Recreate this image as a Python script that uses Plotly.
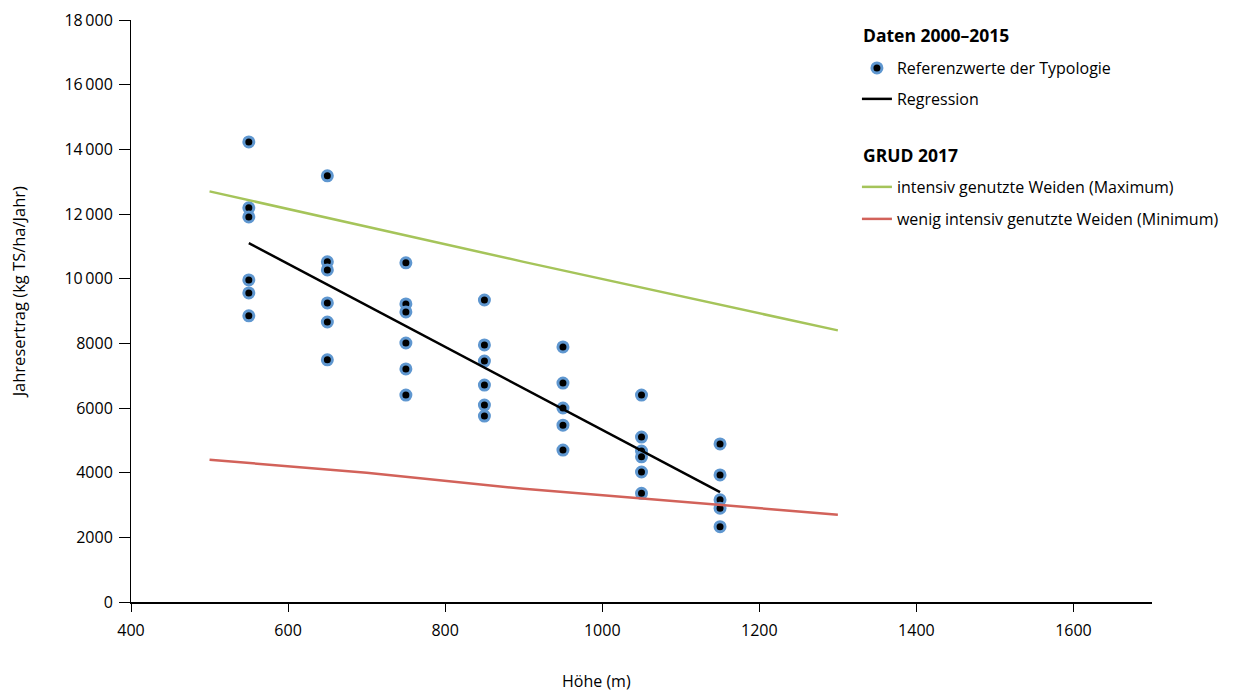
import plotly.graph_objects as go

# Reference points (Höhe m, Jahresertrag kg TS/ha/Jahr)
pts_x = [550]*6 + [650]*6 + [750]*6 + [850]*6 + [950]*5 + [1050]*6 + [1150]*5
pts_y = [14230, 12190, 11910, 9960, 9560, 8850,
         13180, 10520, 10270, 9250, 8660, 7490,
         10490, 9220, 8970, 8010, 7210, 6400,
         9340, 7950, 7450, 6710, 6090, 5750,
         7890, 6770, 6000, 5470, 4700,
         6400, 5100, 4670, 4490, 4020, 3360,
         4890, 3930, 3160, 2900, 2330]

reg_x = [550, 1150]
reg_y = [11100, 3400]

max_x = [500, 900, 1300]
max_y = [12700, 10520, 8400]

min_x = [500, 700, 900, 1300]
min_y = [4400, 4000, 3500, 2700]

y_ticks = [0, 2000, 4000, 6000, 8000, 10000, 12000, 14000, 16000, 18000]
y_labels = ["0", "2000", "4000", "6000", "8000", "10\u2009000", "12\u2009000", "14\u2009000", "16\u2009000", "18\u2009000"]
x_ticks = [400, 600, 800, 1000, 1200, 1400, 1600]

x_title = "Höhe (m)"
y_title = "Jahresertrag (kg TS/ha/Jahr)"

FONT = "Open Sans, sans-serif"
LEG_X = 0.711

fig = go.Figure()
fig.add_trace(go.Scatter(x=pts_x, y=pts_y, mode="markers",
                         marker=dict(color="black", size=10, line=dict(color="#5f97d0", width=3)),
                         name="Referenzwerte der Typologie", legend="legend"))
fig.add_trace(go.Scatter(x=reg_x, y=reg_y, mode="lines", line=dict(color="black", width=2.5),
                         name="Regression", legend="legend2"))
fig.add_trace(go.Scatter(x=max_x, y=max_y, mode="lines", line=dict(color="#a5c45a", width=2.5),
                         name="intensiv genutzte Weiden (Maximum)", legend="legend3"))
fig.add_trace(go.Scatter(x=min_x, y=min_y, mode="lines", line=dict(color="#d2625a", width=2.5),
                         name="wenig intensiv genutzte Weiden (Minimum)", legend="legend4"))

def leg(y):
    return dict(x=LEG_X, y=y, xanchor="left", yanchor="middle", font=dict(size=16),
                bgcolor="rgba(0,0,0,0)", borderwidth=0)

fig.update_layout(
    width=1218, height=683,
    margin=dict(l=123, r=74, t=12, b=89, autoexpand=False),
    paper_bgcolor="white", plot_bgcolor="white",
    font=dict(family=FONT, size=16, color="black"),
    legend=leg(0.9175), legend2=leg(0.8643), legend3=leg(0.7131), legend4=leg(0.6581),
    showlegend=True,
    annotations=[
        dict(text="<b>Daten 2000–2015</b>", x=0.715, y=0.9742, xref="paper", yref="paper",
             xanchor="left", yanchor="middle", showarrow=False, font=dict(size=17.5)),
        dict(text="<b>GRUD 2017</b>", x=0.715, y=0.7680, xref="paper", yref="paper",
             xanchor="left", yanchor="middle", showarrow=False, font=dict(size=17.5)),
        dict(text=x_title, x=0.456, y=-0.1355, xref="paper", yref="paper",
             xanchor="center", yanchor="middle", showarrow=False, font=dict(size=16)),
        dict(text=y_title, x=-0.1107, y=0.532, xref="paper", yref="paper", textangle=-90,
             xanchor="center", yanchor="middle", showarrow=False, font=dict(size=16.5)),
    ],
)
fig.update_xaxes(range=[400, 1700], tickvals=x_ticks, showgrid=False, zeroline=False,
                 showline=True, linecolor="black", linewidth=1.5, ticks="outside", ticklen=8,
                 tickcolor="black", ticklabelstandoff=5, automargin=False)
fig.update_yaxes(range=[0, 18000], tickvals=y_ticks, ticktext=y_labels, showgrid=False, zeroline=False,
                 showline=True, linecolor="black", linewidth=1, ticks="outside", ticklen=11,
                 tickcolor="black", ticklabelstandoff=3, automargin=False)

fig.write_html("out.html")
